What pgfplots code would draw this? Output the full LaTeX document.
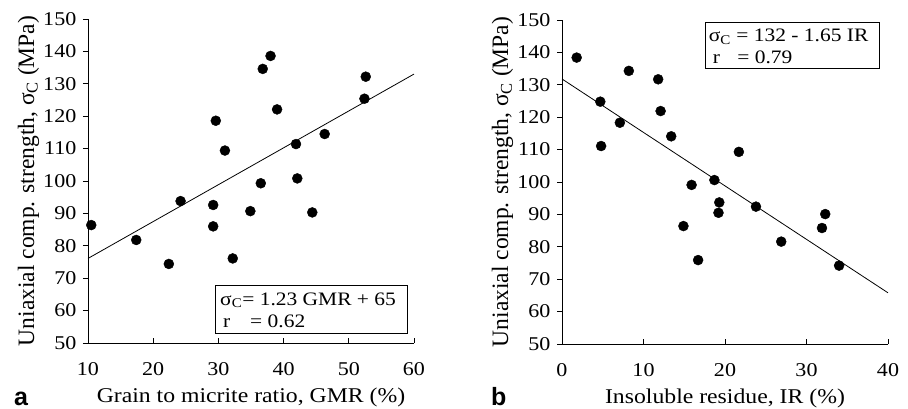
\documentclass[border=0pt]{standalone}
\usepackage{pgfplots}
\pgfplotsset{compat=1.18}
\usepackage{fontspec}
\setmainfont{Liberation Serif}[FakeStretch=1.13]
\newfontfamily\ylabfont{Liberation Serif}
\newfontfamily\arialfont{Liberation Sans}
\tikzset{boxtxt/.style={anchor=base west, inner sep=0pt, font=\fontsize{19}{23}\selectfont}}
\begin{document}
\fontsize{19.5}{23}\selectfont
\begin{tikzpicture}[x=1pt,y=1pt]
\useasboundingbox (0,0) rectangle (908,408);
\pgfplotsset{
  panel/.style={
    scale only axis, width=326pt, height=324pt,
    anchor=south west,
    axis x line*=bottom, axis y line*=left,
    xtick align=inside, ytick align=outside,
    major tick length=5pt,
    ymin=50, ymax=150, ytick={50,60,...,150},
    /pgf/number format/assume math mode=true,
    tick label style={font=\fontsize{19.5}{23}\selectfont},
    xticklabel style={anchor=base, yshift=-32pt},
    xlabel style={font=\fontsize{21}{25}\selectfont, at={(axis description cs:0.5,0)}, anchor=base, yshift=-59pt},
    ylabel style={font=\ylabfont\fontsize{23.5}{27}\selectfont, at={(axis description cs:-0.1656,0.5)}, anchor=base},
    ylabel={Uniaxial comp. strength, σ\textsubscript{C} (MPa)},
    axis line style={line width=0.8pt},
    tick style={line width=0.8pt, black},
    clip=false,
  },
  pts/.style={only marks, mark=*, mark size=5pt, black},
  fit/.style={no marks, black, line width=0.8pt},
}
\begin{axis}[panel, at={(88pt,65pt)},
  xmin=10, xmax=60, xtick={10,20,...,60},
  xlabel={Grain to micrite ratio, GMR (\%)}]
\addplot[pts] coordinates {
(10.5,86.4) (17.4,81.8) (22.4,74.4) (24.2,93.8) (29.2,92.6) (29.2,86.0)
(29.6,118.6) (31.0,109.4) (32.2,76.1) (34.9,90.7) (36.5,99.3) (36.8,134.6)
(38.0,138.6) (39.0,122.1) (41.9,111.4) (42.1,100.8) (44.4,90.3) (46.3,114.5)
(52.4,125.4) (52.6,132.2)};
\addplot[fit] coordinates {(10,76.1) (60,133.0)};
\draw[line width=0.8pt, fill=white] (axis cs:29.6,53.1) rectangle (axis cs:59.0,67.7);
\node[boxtxt] at (axis cs:30.25,61.7) {σ\textsubscript{C}= 1.23 GMR + 65};
\node[boxtxt] at (axis cs:30.7,54.9) {r};
\node[boxtxt] at (axis cs:34.85,54.9) {= 0.62};
\end{axis}
\begin{axis}[panel, at={(562pt,64pt)},
  xmin=0, xmax=40, xtick={0,10,...,40},
  xlabel={Insoluble residue, IR (\%)}]
\addplot[pts] coordinates {
(1.8,138.4) (4.7,124.8) (4.8,111.1) (7.1,118.3) (8.2,134.3) (11.8,131.7)
(12.1,121.9) (13.4,114.1) (14.9,86.4) (15.9,99.1) (16.7,75.9) (18.7,100.6)
(19.3,93.7) (19.2,90.5) (21.7,109.3) (23.8,92.4) (26.9,81.6) (31.9,85.8)
(32.3,90.1) (34.0,74.2)};
\addplot[fit] coordinates {(0,131.8) (40,65.8)};
\draw[line width=0.8pt, fill=white] (axis cs:17.6,135.1) rectangle (axis cs:38.97,149.2);
\node[boxtxt] at (axis cs:18.0,143.3) {σ\textsubscript{C} = 132 - 1.65 IR};
\node[boxtxt] at (axis cs:18.5,136.6) {r};
\node[boxtxt] at (axis cs:21.5,136.6) {= 0.79};
\end{axis}
\node[anchor=base west, inner sep=0pt, font=\arialfont\bfseries\fontsize{25}{29}\selectfont] at (14,3) {a};
\node[anchor=base west, inner sep=0pt, font=\arialfont\bfseries\fontsize{25}{29}\selectfont] at (491,3) {b};
\end{tikzpicture}
\end{document}
